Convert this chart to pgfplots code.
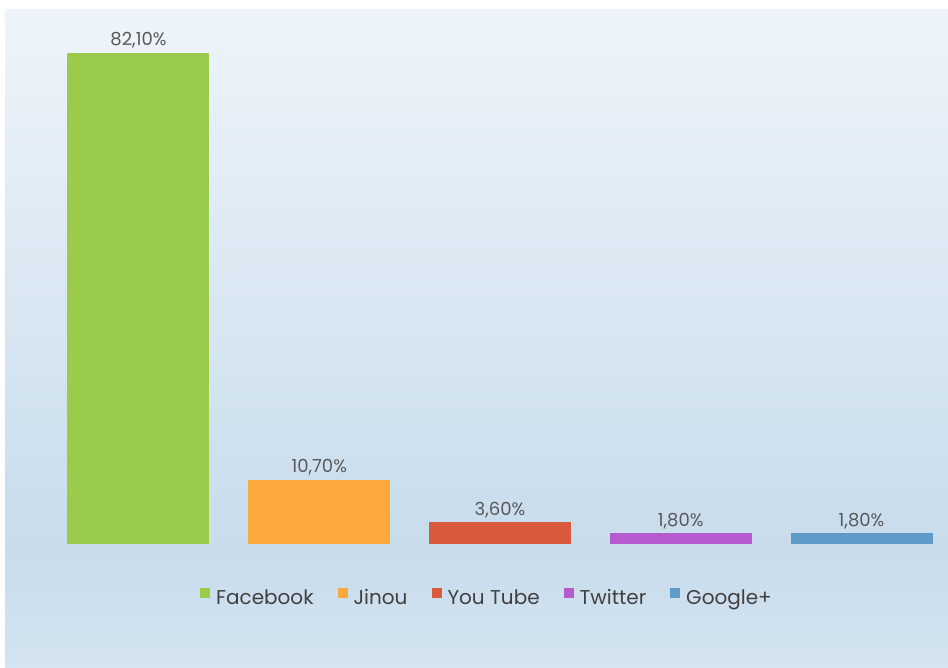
\documentclass[border=0pt]{standalone}
\usepackage{pgfplots}
\pgfplotsset{compat=1.18}
\usepackage{fontspec}
\setmainfont{Poppins}
\definecolor{bgT}{HTML}{EEF4FA}
\definecolor{bgM}{HTML}{D9E7F2}
\definecolor{bgL}{HTML}{C8DCEC}
\definecolor{bgB}{HTML}{D4E4F0}
\definecolor{cGreen}{HTML}{9BCB4B}
\definecolor{cOrange}{HTML}{FBA93A}
\definecolor{cRed}{HTML}{DA5A3D}
\definecolor{cPurple}{HTML}{B65BCE}
\definecolor{cBlue}{HTML}{5F9BC9}
\definecolor{labelgray}{HTML}{595959}
\definecolor{legendgray}{HTML}{404040}
\begin{document}
\begin{tikzpicture}
\useasboundingbox (0,0) rectangle (948pt,668pt);
\fill[white] (0,0) rectangle (948pt,668pt);
\shade[top color=bgL, bottom color=bgB] (5pt,0pt) rectangle (948pt,118.5pt);
\shade[top color=bgM, bottom color=bgL] (5pt,118pt) rectangle (948pt,368.5pt);
\shade[top color=bgT, bottom color=bgM] (5pt,368pt) rectangle (948pt,658pt);
\begin{axis}[
  at={(48.1pt,124pt)}, anchor=south west,
  scale only axis, width=885.7pt, height=538.2pt,
  xmin=-0.5, xmax=4.4, ymin=0, ymax=90,
  hide axis,
  ybar, bar width=142pt,
  /pgf/number format/assume math mode=true,
  nodes near coords={\pgfmathprintnumber[fixed,fixed zerofill,precision=2,use comma]{\pgfplotspointmeta}\%},
  every node near coord/.append style={font=\fontsize{18}{20}\selectfont, text=labelgray, yshift=1pt},
  legend style={at={(0.4955,-0.1003)}, anchor=center, draw=none, fill=none,
    font=\fontsize{20}{23}\selectfont, text=legendgray,
    /tikz/every odd column/.append style={column sep=4pt},
    /tikz/every even column/.append style={column sep=22pt},
    cells={anchor=west}},
  legend columns=5,
  legend image code/.code={\fill[#1] (0pt,0.5pt) rectangle (10pt,10.5pt);},
]
\addplot[fill=cGreen, draw=none, bar shift=0pt] coordinates {(0,82.1)};
\addplot[fill=cOrange, draw=none, bar shift=0pt] coordinates {(1,10.7)};
\addplot[fill=cRed, draw=none, bar shift=0pt] coordinates {(2,3.6)};
\addplot[fill=cPurple, draw=none, bar shift=0pt] coordinates {(3,1.8)};
\addplot[fill=cBlue, draw=none, bar shift=0pt] coordinates {(4,1.8)};
\legend{Facebook,Jinou,You Tube,Twitter,Google+}
\end{axis}
\end{tikzpicture}
\end{document}
